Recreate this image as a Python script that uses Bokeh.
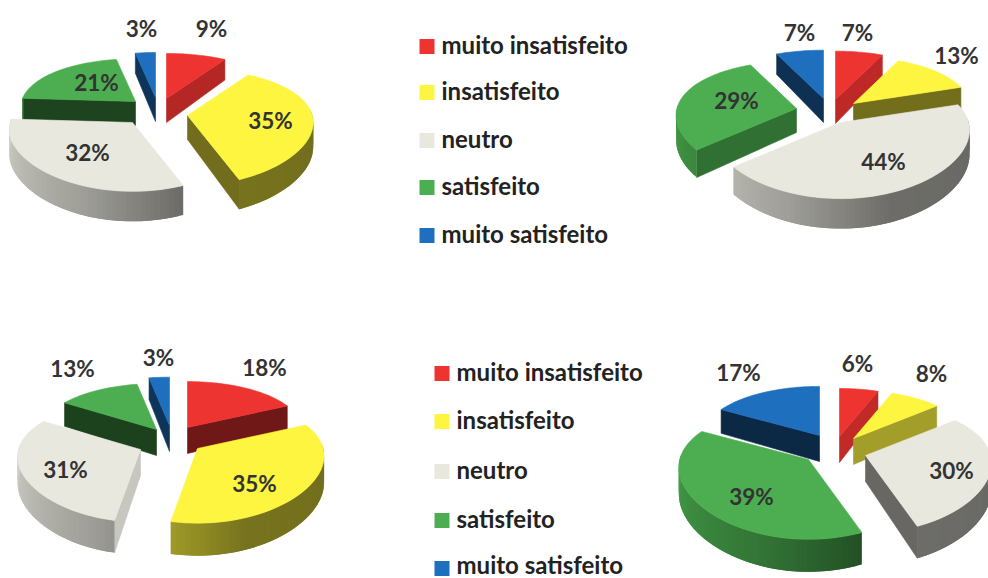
import numpy as np
from bokeh.core.properties import value
from bokeh.embed import file_html
from bokeh.models import Range1d
from bokeh.plotting import figure
from bokeh.resources import INLINE

# Satisfaction levels and the share of answers in each of the four groups
categories = ["muito insatisfeito", "insatisfeito", "neutro", "satisfeito", "muito satisfeito"]
group_a = [9, 35, 32, 21, 3]
group_b = [7, 13, 44, 29, 7]
group_c = [18, 35, 31, 13, 3]
group_d = [6, 8, 30, 39, 17]

colors = ["#ee3431", "#fdf540", "#e9e8df", "#4cae50", "#1e6fbe"]

# Layout of each pie: exploded slice apexes, slice size factors and label centres in page pixels
pies = [
    dict(values=group_a, rx=120, ry=54, depth=24, scale=[1, 1.04, 1.02, .95, 1],
         apex=[(166, 98), (187, 115), (132, 122), (135, 101), (155, 97)],
         labels=[(211, 28), (270, 120), (87, 152), (96, 82), (141, 28)]),
    dict(values=group_b, rx=122, ry=58, depth=24, scale=[1, .96, 1.05, .98, 1],
         apex=[(835, 99), (853, 103), (840, 122), (796, 108), (823, 98)],
         labels=[(857, 32), (956, 55), (883, 161), (736, 100), (799, 32)]),
    dict(values=group_c, rx=122, ry=58, depth=26, scale=[.95, 1.03, 1, .95, 1],
         apex=[(187, 427), (197, 448), (140, 449), (156, 429), (169, 425)],
         labels=[(264, 367), (254, 483), (65, 469), (72, 368), (158, 357)]),
    dict(values=group_d, rx=125, ry=62, depth=26, scale=[.93, .93, 1, 1.03, .95],
         apex=[(839, 436), (853, 438), (865, 455), (808, 459), (819, 435)],
         labels=[(857, 363), (931, 373), (951, 470), (751, 496), (738, 372)]),
]

legends = [
    dict(x=419, ys=[46, 92, 140, 187, 235], label_ys=[44, 90, 138, 185, 233]),
    dict(x=434, ys=[373, 421, 471, 520, 568], label_ys=[371, 419, 469, 518, 564]),
]

PERSPECTIVE_X = 0.12
PERSPECTIVE_Y = 0.2
FONT = "Lato"


def shade(hex_color, b):
    rgb = [int(hex_color[i:i + 2], 16) for i in (1, 3, 5)]
    return "#%02x%02x%02x" % tuple(int(min(255, c * b)) for c in rgb)


def project(theta_deg, apex, pie, k=1.0, drop=0.0):
    t = np.radians(theta_deg)
    x, y = np.sin(t), np.cos(t)
    sx = 1.0 / (1.0 + PERSPECTIVE_X * y)
    sy = 1.0 / (1.0 + PERSPECTIVE_Y * y)
    return (apex[0] + k * pie["rx"] * x * sx,
            apex[1] - k * pie["ry"] * y * sy + drop * sy)


def wall_brightness(normal):
    return np.interp(normal % 360, [90, 120, 140, 155, 200, 250, 270],
                     [.9, .78, .65, .47, .35, .45, .5])


def rim_brightness(theta):
    return np.interp(theta % 360, [60, 160, 200, 270, 300], [.44, .47, .68, .9, .9])


p = figure(width=988, height=578, output_backend="svg", toolbar_location=None,
           x_range=Range1d(0, 988), y_range=Range1d(578, 0),
           min_border=0, outline_line_color=None)
p.axis.visible = False
p.grid.visible = False


def add_poly(points, color, edge=True):
    xs, ys = zip(*points)
    p.patch(list(xs), list(ys), fill_color=color,
            line_color=color if edge else None, line_width=0.6)


for pie in pies:
    edges = np.concatenate([[0], np.cumsum(pie["values"])]) * 3.6
    mids = (edges[:-1] + edges[1:]) / 2
    # painter's order: slices further back are drawn first
    for i in np.argsort(-np.cos(np.radians(mids))):
        start, end = edges[i], edges[i + 1]
        apex = pie["apex"][i]
        base = colors[i]
        d = pie["depth"]
        k = pie["scale"][i]

        # flat cut faces that look toward the viewer
        for theta, normal in ((start, start - 90), (end, end + 90)):
            if np.cos(np.radians(normal)) < -1e-6:
                add_poly([apex, project(theta, apex, pie, k), project(theta, apex, pie, k, drop=d),
                          (apex[0], apex[1] + d)], shade(base, wall_brightness(normal)))

        # curved rim: overlapping strips, so no seams show between the shades
        arc = np.linspace(start, end, max(4, int((end - start) / 2) + 1))
        front = arc[np.cos(np.radians(arc)) < 0.1]
        for j in range(len(front) - 1):
            a, b = front[j], front[min(j + 2, len(front) - 1)]
            mid = (front[j] + front[j + 1]) / 2
            add_poly([project(a, apex, pie, k), project(b, apex, pie, k),
                      project(b, apex, pie, k, drop=d), project(a, apex, pie, k, drop=d)],
                     shade(base, rim_brightness(mid)), edge=False)

        # top face
        add_poly([apex] + [project(t, apex, pie, k) for t in arc], base)

    p.text([c[0] for c in pie["labels"]], [c[1] for c in pie["labels"]],
           text=[f"{v}%" for v in pie["values"]], text_font=value(FONT),
           text_font_size="22.5px", text_font_style="bold", text_color="#333333",
           text_align="center", text_baseline="middle")

for leg in legends:
    ys = np.array(leg["ys"])
    p.quad(left=leg["x"], right=leg["x"] + 15, top=ys - 7.5, bottom=ys + 7.5,
           fill_color=colors, line_color=None)
    p.text([leg["x"] + 22] * 5, leg["label_ys"], text=categories, text_font=value(FONT),
           text_font_size="24px", text_font_style="bold", text_color="#222222",
           text_align="left", text_baseline="middle")

open("out.html", "w").write(file_html(p, INLINE))
